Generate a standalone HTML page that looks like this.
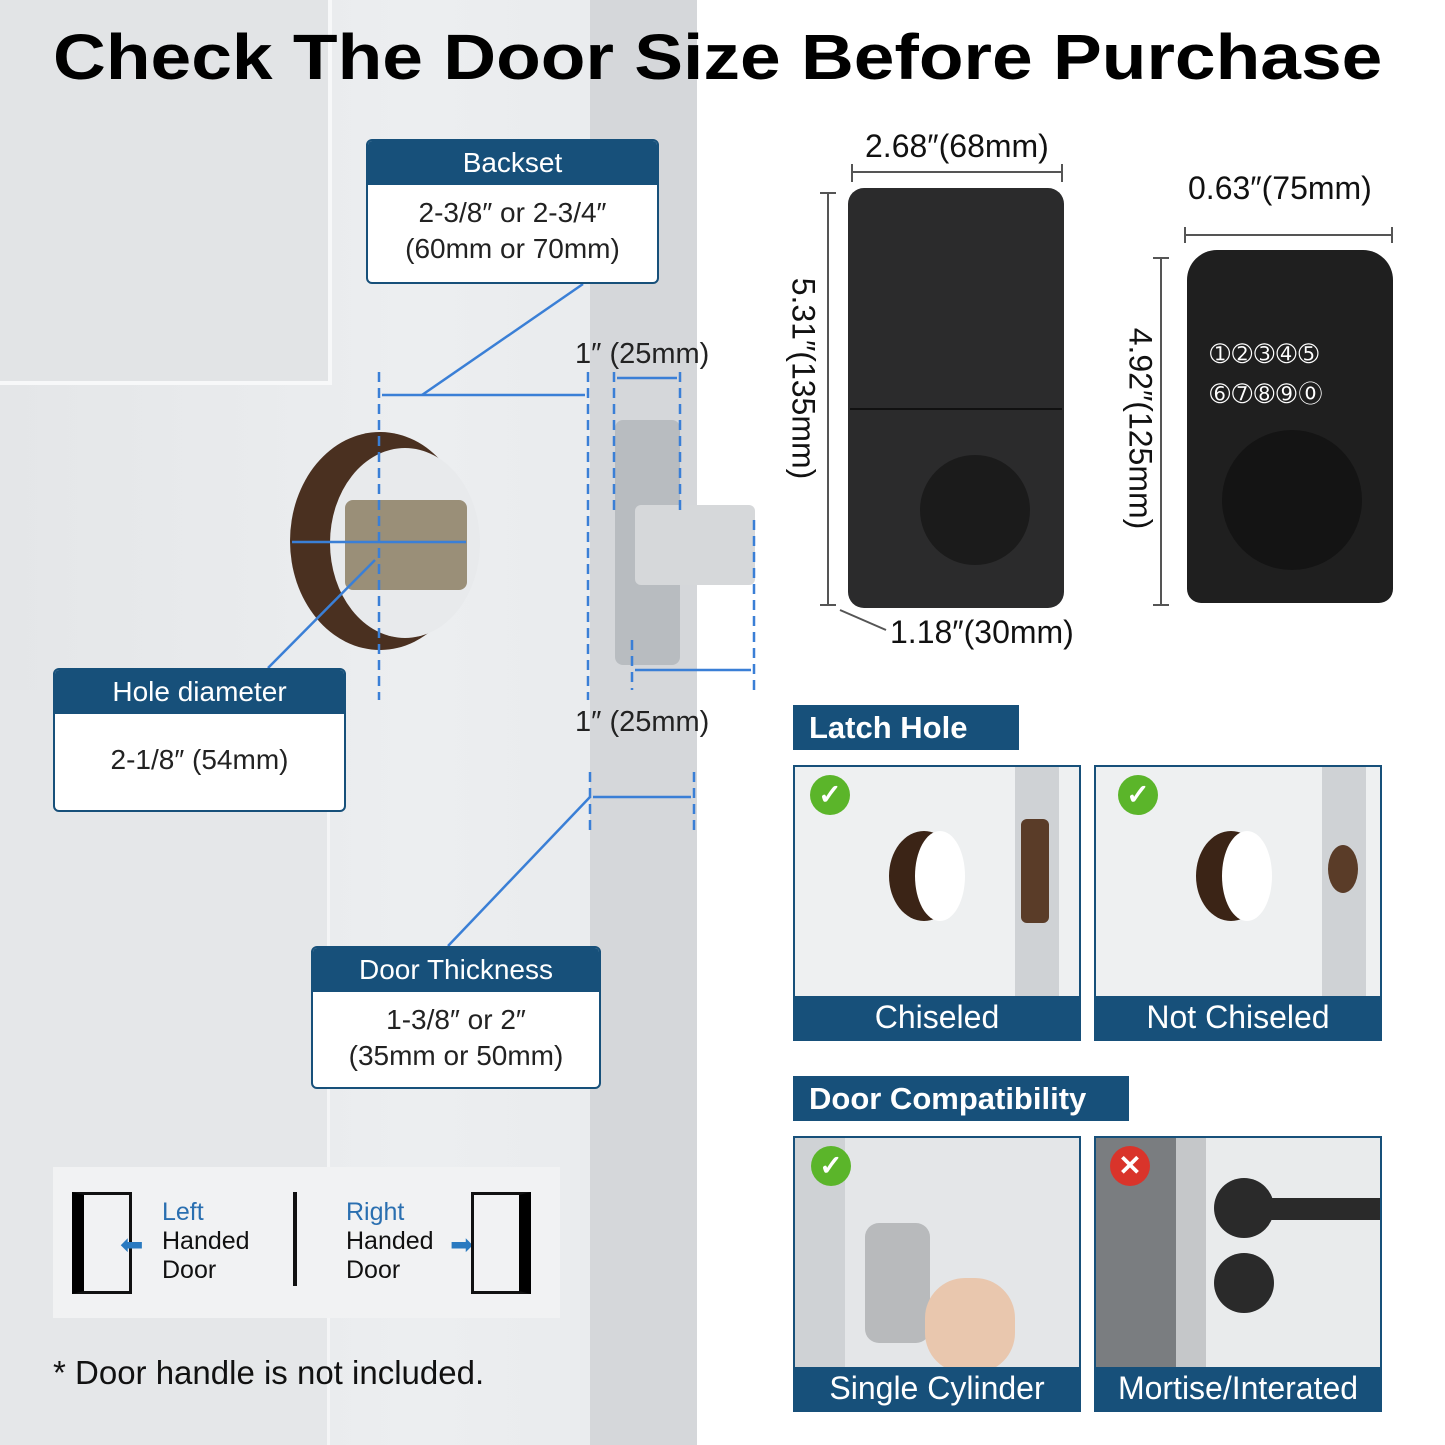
<!DOCTYPE html>
<html><head><meta charset="utf-8"><style>
*{margin:0;padding:0;box-sizing:border-box}
body{width:1445px;height:1445px;position:relative;overflow:hidden;background:#fff;font-family:"Liberation Sans",Arial,sans-serif}
.a{position:absolute}
.hdr{background:#17507a;color:#fff;text-align:center}
.box{position:absolute;background:#fff;border:2px solid #17507a;border-radius:6px;overflow:hidden}
.box .hdr{height:44px;line-height:44px;font-size:28px}
.box .bd{text-align:center;font-size:28px;color:#222;line-height:36px}
.tag{position:absolute;background:#17507a;color:#fff;font-weight:bold;font-size:31px;padding-left:16px;line-height:45px;height:45px}
.ph{position:absolute;background:#eef0f1;border:2px solid #17507a;overflow:hidden}
.ph .lb{position:absolute;left:0;right:0;bottom:0;height:43px;background:#17507a;color:#fff;font-size:32px;text-align:center;line-height:43px}
.chk{position:absolute;width:40px;height:40px;border-radius:50%;background:#5bb52a;color:#fff;font-size:28px;text-align:center;line-height:40px;font-weight:bold}
.dim{position:absolute;font-size:32px;color:#111;white-space:nowrap}
</style></head><body>
<div class="a" style="left:0;top:0;width:697px;height:1445px;background:linear-gradient(90deg,#e4e6e8,#eceef0 60%,#e8eaec)"></div>
<div class="a" style="left:0;top:0;width:332px;height:385px;border:4px solid #f7f8f9;border-left:0;border-top:0;background:#e2e4e6"></div>
<div class="a" style="left:0;top:690px;width:330px;height:755px;border-right:3px solid #f4f5f6;background:#e5e7e9"></div>
<div class="a" style="left:590px;top:0;width:107px;height:1445px;background:#d5d7da"></div>
<div class="a" style="left:53px;top:20px;font-size:64px;font-weight:bold;color:#000;white-space:nowrap;transform:scaleX(1.143);transform-origin:left top">Check The Door Size Before Purchase</div>

<div class="a" style="left:290px;top:432px;width:180px;height:218px;border-radius:50%;background:#4a3020"></div>
<div class="a" style="left:330px;top:448px;width:150px;height:190px;border-radius:50%;background:#e8eaec"></div>
<div class="a" style="left:345px;top:500px;width:122px;height:90px;background:#9a8f78;border-radius:8px"></div>
<div class="a" style="left:615px;top:420px;width:65px;height:245px;background:#b8bcc0;border-radius:8px"></div>
<div class="a" style="left:635px;top:505px;width:120px;height:80px;background:#d6d8da;border-radius:6px"></div>

<svg class="a" style="left:0;top:0" width="1445" height="1445">
<g stroke="#3a7fd6" stroke-width="2.5" fill="none">
<line x1="379" y1="372" x2="379" y2="700" stroke-dasharray="10,6"/>
<line x1="588" y1="372" x2="588" y2="700" stroke-dasharray="10,6"/>
<line x1="382" y1="395" x2="585" y2="395"/>
<line x1="422" y1="395" x2="583" y2="284"/>
<line x1="292" y1="542" x2="466" y2="542"/>
<line x1="268" y1="668" x2="375" y2="560"/>
<line x1="614" y1="372" x2="614" y2="510" stroke-dasharray="10,6"/>
<line x1="680" y1="372" x2="680" y2="510" stroke-dasharray="10,6"/>
<line x1="617" y1="378" x2="677" y2="378"/>
<line x1="632" y1="640" x2="632" y2="690" stroke-dasharray="10,6"/>
<line x1="754" y1="520" x2="754" y2="690" stroke-dasharray="10,6"/>
<line x1="635" y1="670" x2="751" y2="670"/>
<line x1="590" y1="772" x2="590" y2="830" stroke-dasharray="10,6"/>
<line x1="694" y1="772" x2="694" y2="830" stroke-dasharray="10,6"/>
<line x1="593" y1="797" x2="691" y2="797"/>
<line x1="448" y1="946" x2="590" y2="797"/>
</g>
<g stroke="#555" stroke-width="2" fill="none">
<line x1="852" y1="172" x2="1062" y2="172"/><line x1="852" y1="164" x2="852" y2="182"/><line x1="1062" y1="164" x2="1062" y2="182"/>
<line x1="828" y1="193" x2="828" y2="605"/><line x1="820" y1="193" x2="836" y2="193"/><line x1="820" y1="605" x2="836" y2="605"/>
<line x1="1185" y1="235" x2="1392" y2="235"/><line x1="1185" y1="227" x2="1185" y2="243"/><line x1="1392" y1="227" x2="1392" y2="243"/>
<line x1="1161" y1="258" x2="1161" y2="605"/><line x1="1153" y1="258" x2="1169" y2="258"/><line x1="1153" y1="605" x2="1169" y2="605"/>
<line x1="840" y1="610" x2="886" y2="630"/>
</g>
</svg>

<div class="a" style="left:575px;top:338px;font-size:29px;color:#222">1″ (25mm)</div>
<div class="a" style="left:575px;top:706px;font-size:29px;color:#222">1″ (25mm)</div>

<div class="box" style="left:366px;top:139px;width:293px;height:145px"><div class="hdr">Backset</div><div class="bd" style="padding-top:10px">2-3/8″ or 2-3/4″<br>(60mm or 70mm)</div></div>
<div class="box" style="left:53px;top:668px;width:293px;height:144px"><div class="hdr">Hole diameter</div><div class="bd" style="padding-top:28px">2-1/8″ (54mm)</div></div>
<div class="box" style="left:311px;top:946px;width:290px;height:143px"><div class="hdr">Door Thickness</div><div class="bd" style="padding-top:10px">1-3/8″ or 2″<br>(35mm or 50mm)</div></div>

<div class="a" style="left:53px;top:1167px;width:507px;height:151px;background:#f1f2f3"></div>
<div class="a" style="left:72px;top:1192px;width:60px;height:102px;border:3px solid #111;border-left:12px solid #000"></div>
<div class="a" style="left:120px;top:1228px;font-size:28px;color:#2a7ac0">⬅</div>
<div class="a" style="left:162px;top:1198px;font-size:25px;line-height:29px;color:#111"><span style="color:#2a6fb0">Left</span><br>Handed<br>Door</div>
<div class="a" style="left:293px;top:1192px;width:4px;height:94px;background:#111"></div>
<div class="a" style="left:346px;top:1198px;font-size:25px;line-height:29px;color:#111"><span style="color:#2a6fb0">Right</span><br>Handed<br>Door</div>
<div class="a" style="left:450px;top:1228px;font-size:28px;color:#2a7ac0">➡</div>
<div class="a" style="left:471px;top:1192px;width:60px;height:102px;border:3px solid #111;border-right:12px solid #000"></div>
<div class="a" style="left:53px;top:1354px;font-size:33px;color:#111">* Door handle is not included.</div>

<div class="dim" style="left:865px;top:128px">2.68″(68mm)</div>
<div class="dim" style="left:1188px;top:170px">0.63″(75mm)</div>
<div class="dim" style="left:673px;top:360px;transform:rotate(90deg);width:260px;text-align:center">5.31″(135mm)</div>
<div class="dim" style="left:1010px;top:410px;transform:rotate(90deg);width:260px;text-align:center">4.92″(125mm)</div>
<div class="dim" style="left:890px;top:614px">1.18″(30mm)</div>
<div class="a" style="left:848px;top:188px;width:216px;height:420px;background:#2b2b2c;border-radius:16px"></div>
<div class="a" style="left:850px;top:408px;width:212px;height:2px;background:#111"></div>
<div class="a" style="left:920px;top:455px;width:110px;height:110px;border-radius:50%;background:#1b1b1b"></div>
<div class="a" style="left:1187px;top:250px;width:206px;height:353px;background:#1f1f1f;border-radius:30px 30px 14px 14px"></div>
<div class="a" style="left:1210px;top:335px;font-size:24px;color:#fff;letter-spacing:2px;line-height:40px;width:170px">➀➁➂➃➄<br>➅➆➇➈⓪</div>
<div class="a" style="left:1222px;top:430px;width:140px;height:140px;border-radius:50%;background:#141414"></div>

<div class="tag" style="left:793px;top:705px;width:226px">Latch Hole</div>
<div class="ph" style="left:793px;top:765px;width:288px;height:276px">
<div class="a" style="left:220px;top:0;width:44px;height:240px;background:#cfd2d5"></div>
<div class="a" style="left:94px;top:64px;width:70px;height:90px;border-radius:50%;background:#3b2416"></div>
<div class="a" style="left:120px;top:64px;width:50px;height:90px;border-radius:50%;background:#fff"></div>
<div class="a" style="left:226px;top:52px;width:28px;height:104px;border-radius:6px;background:#5a3c28"></div>
<div class="chk" style="left:15px;top:8px">✓</div>
<div class="lb">Chiseled</div></div>
<div class="ph" style="left:1094px;top:765px;width:288px;height:276px">
<div class="a" style="left:226px;top:0;width:44px;height:240px;background:#cfd2d5"></div>
<div class="a" style="left:100px;top:64px;width:70px;height:90px;border-radius:50%;background:#3b2416"></div>
<div class="a" style="left:126px;top:64px;width:50px;height:90px;border-radius:50%;background:#fff"></div>
<div class="a" style="left:232px;top:78px;width:30px;height:48px;border-radius:50%;background:#5a3c28"></div>
<div class="chk" style="left:22px;top:8px">✓</div>
<div class="lb">Not Chiseled</div></div>

<div class="tag" style="left:793px;top:1076px;width:336px">Door Compatibility</div>
<div class="ph" style="left:793px;top:1136px;width:288px;height:276px;background:#e4e6e8">
<div class="a" style="left:0;top:0;width:50px;height:240px;background:#cfd2d5"></div>
<div class="a" style="left:70px;top:85px;width:65px;height:120px;border-radius:14px;background:#b8babc"></div>
<div class="a" style="left:130px;top:140px;width:90px;height:95px;border-radius:40px;background:#e9c7ae"></div>
<div class="chk" style="left:16px;top:8px">✓</div>
<div class="lb">Single Cylinder</div></div>
<div class="ph" style="left:1094px;top:1136px;width:288px;height:276px;background:#e9ebec">
<div class="a" style="left:0;top:0;width:80px;height:240px;background:#7a7d80"></div>
<div class="a" style="left:80px;top:0;width:30px;height:240px;background:#c5c7c9"></div>
<div class="a" style="left:118px;top:40px;width:60px;height:60px;border-radius:50%;background:#2a2a2a"></div>
<div class="a" style="left:150px;top:60px;width:136px;height:22px;background:#2a2a2a"></div>
<div class="a" style="left:118px;top:115px;width:60px;height:60px;border-radius:50%;background:#2a2a2a"></div>
<div class="chk" style="left:14px;top:8px;background:#d9342b">✕</div>
<div class="lb">Mortise/Interated</div></div>
</body></html>
